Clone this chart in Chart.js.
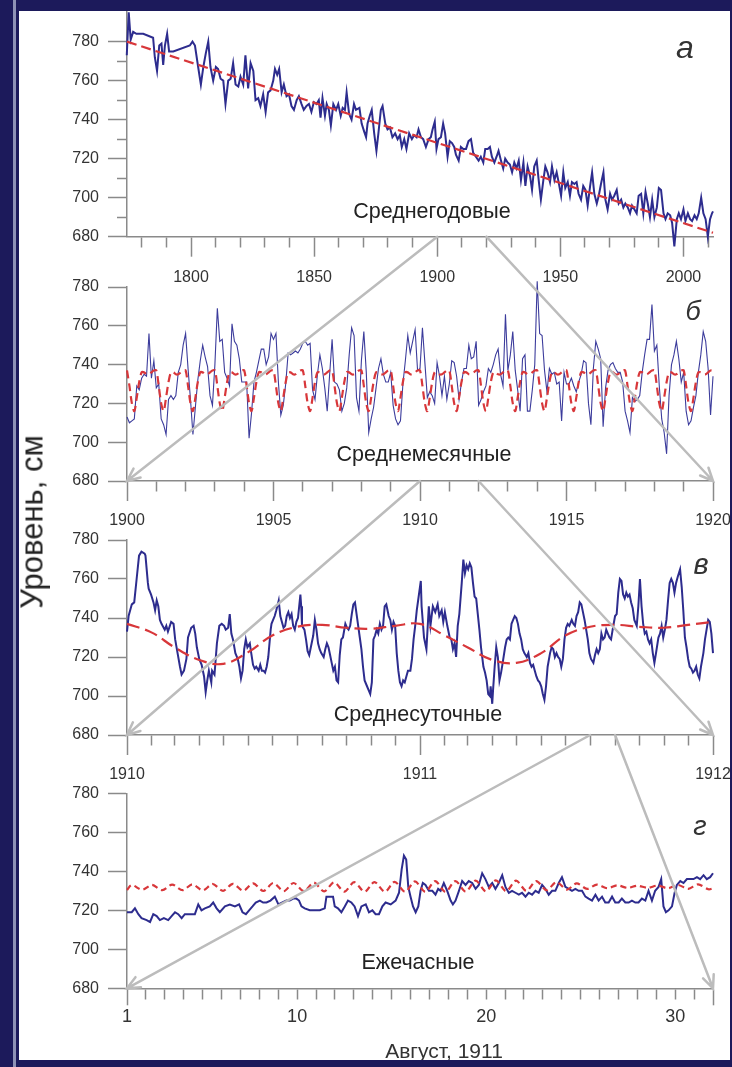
<!DOCTYPE html>
<html>
<head>
<meta charset="utf-8">
<script src="https://cdn.jsdelivr.net/npm/chart.js@4.4.1/dist/chart.umd.min.js"></script>
<style>
  html, body { margin: 0; padding: 0; background: #1c1a5b; }
  #page { position: relative; width: 732px; height: 1067px; background: #1c1a5b; overflow: hidden; }
  #stripe { position: absolute; left: 13px; top: 0; width: 3px; height: 1067px; background: #8e92b6; }
  #sheet { position: absolute; left: 19px; top: 11px; width: 711px; height: 1049px; background: #fff; overflow: hidden; }
  #sheet canvas { position: absolute; left: 0; }
  .t { position: absolute; font-family: "Liberation Sans", Arial, sans-serif; color: #222;
       white-space: nowrap; line-height: 1; transform: translate(-50%, -50%); }
  .tag { font-style: italic; color: #333; }
</style>
</head>
<body>
<div id="page">
  <div id="stripe"></div>
  <div id="sheet">
    <canvas id="chartA"></canvas>
    <canvas id="chartB"></canvas>
    <canvas id="chartC"></canvas>
    <canvas id="chartD"></canvas>
    <canvas id="overlay" width="711" height="1049" style="top:0"></canvas>

    <div class="t" style="left:413px;top:201px;font-size:21.5px">Среднегодовые</div>
    <div class="t" style="left:405px;top:444px;font-size:21.5px">Среднемесячные</div>
    <div class="t" style="left:399px;top:704px;font-size:21.5px">Среднесуточные</div>
    <div class="t" style="left:399px;top:952px;font-size:21.5px">Ежечасные</div>
    <div class="t tag" style="left:666px;top:36px;font-size:32px">а</div>
    <div class="t tag" style="left:674px;top:300px;font-size:27px">б</div>
    <div class="t tag" style="left:682px;top:553px;font-size:29px">в</div>
    <div class="t tag" style="left:681px;top:815px;font-size:27px">г</div>
    <div class="t" style="left:425px;top:1039px;font-size:21px;color:#333">Август, 1911</div>
    <div class="t" style="left:13px;top:511px;font-size:31px;transform:translate(-50%,-50%) rotate(-90deg)">Уровень, см</div>
  </div>
</div>

<script>
const FONT = '"Liberation Sans", Arial, sans-serif';
const AXIS = '#8a8a8a';
const BLUE = '#2d2c8e';
const RED = '#d8373a';

// y ticks shared by all four panels
const levelTicks = [680, 690, 700, 710, 720, 730, 740, 750, 760, 770, 780];

// (а) annual means
const aYear = [
  1773.9, 1774.7, 1775.5, 1776.5, 1777.8, 1780.6, 1784.6, 1785.3, 1786.2, 1787.1,
  1788.0, 1788.7, 1789.4, 1790.3, 1791.1, 1792.8, 1799.5, 1800.6, 1801.6, 1802.9,
  1804.0, 1805.0, 1806.0, 1807.0, 1807.9, 1809.0, 1810.1, 1811.0, 1812.0, 1813.1,
  1814.0, 1815.1, 1816.1, 1817.1, 1818.1, 1819.2, 1820.1, 1821.2, 1822.1, 1823.2,
  1824.2, 1825.3, 1826.2, 1827.3, 1828.2, 1829.3, 1830.3, 1831.3, 1832.3, 1833.4,
  1834.1, 1835.0, 1835.8, 1836.8, 1837.7, 1838.8, 1839.8, 1840.8, 1841.8, 1842.9,
  1843.8, 1844.9, 1845.8, 1846.9, 1847.9, 1848.9, 1849.9, 1851.0, 1851.9, 1852.6,
  1853.4, 1854.4, 1855.1, 1856.0, 1856.8, 1857.8, 1858.9, 1859.8, 1860.8, 1861.6,
  1862.5, 1863.2, 1864.2, 1865.2, 1866.2, 1867.0, 1868.4, 1869.3, 1870.3, 1871.1,
  1871.7, 1872.6, 1873.4, 1874.4, 1875.3, 1876.1, 1877.1, 1877.8, 1878.9, 1879.8,
  1880.8, 1881.8, 1882.9, 1883.9, 1884.8, 1885.6, 1886.6, 1887.5, 1888.6, 1889.7,
  1890.6, 1891.6, 1892.4, 1893.4, 1894.3, 1895.4, 1896.5, 1897.4, 1898.1, 1899.0,
  1899.7, 1900.5, 1901.5, 1902.4, 1903.2, 1904.2, 1905.1, 1906.0, 1906.9, 1907.6,
  1908.7, 1909.6, 1910.6, 1911.7, 1912.7, 1913.7, 1914.6, 1915.7, 1916.8, 1917.7,
  1918.7, 1919.5, 1920.5, 1921.4, 1922.2, 1923.2, 1924.1, 1924.9, 1925.9, 1926.8,
  1927.6, 1928.6, 1929.5, 1930.4, 1931.3, 1932.2, 1933.1, 1934.0, 1935.0, 1935.8,
  1936.7, 1937.7, 1938.5, 1939.4, 1940.4, 1941.2, 1942.1, 1943.1, 1943.9, 1944.8,
  1945.8, 1946.6, 1947.6, 1948.5, 1949.3, 1950.3, 1951.2, 1952.0, 1953.0, 1953.9,
  1954.7, 1955.7, 1956.6, 1957.4, 1958.4, 1959.3, 1960.2, 1961.1, 1962.1, 1962.9,
  1963.8, 1964.8, 1965.6, 1966.5, 1967.5, 1968.3, 1969.2, 1970.2, 1971.0, 1971.9,
  1972.9, 1973.7, 1974.7, 1975.6, 1976.4, 1977.4, 1978.3, 1979.1, 1980.1, 1981.0,
  1981.8, 1982.8, 1983.7, 1984.6, 1985.5, 1986.4, 1987.3, 1988.2, 1989.2, 1990.0,
  1990.9, 1991.9, 1992.7, 1993.6, 1994.6, 1995.4, 1996.3, 1997.3, 1998.1, 1999.0,
  2000.0, 2000.8, 2001.8, 2002.7, 2003.5, 2004.5, 2005.4, 2006.2, 2007.2, 2008.1,
  2009.0, 2009.9, 2010.8, 2011.6, 2012.0
];
const aLevel = [
  773, 795, 781, 785, 784, 784, 782, 772, 765, 778,
  779, 768, 778, 784, 775, 775, 778, 780, 778, 767,
  758, 767, 774, 780, 767, 760, 767, 766, 761, 760,
  748, 760, 761, 769, 758, 757, 762, 758, 773, 756,
  769, 765, 750, 751, 747, 753, 744, 754, 755, 760,
  766, 763, 766, 754, 758, 752, 753, 747, 745, 750,
  752, 748, 745, 747, 748, 744, 749, 748, 750, 741,
  751, 742, 748, 745, 737, 748, 745, 748, 742, 746,
  745, 754, 743, 740, 748, 745, 746, 738, 734, 731,
  738, 742, 745, 733, 724, 733, 745, 747, 738, 735,
  736, 731, 733, 730, 732, 726, 730, 725, 733, 730,
  732, 731, 735, 731, 730, 726, 730, 731, 735, 739,
  725, 730, 731, 738, 733, 721, 729, 728, 726, 722,
  719, 726, 725, 725, 729, 730, 723, 721, 719, 721,
  718, 725, 725, 726, 721, 718, 721, 724, 719, 715,
  720, 718, 717, 713, 718, 715, 719, 709, 718, 706,
  716, 711, 704, 716, 719, 709, 699, 709, 716, 713,
  708, 716, 709, 713, 708, 701, 713, 705, 708, 701,
  708, 707, 708, 702, 699, 706, 704, 696, 706, 713,
  702, 697, 701, 707, 713, 699, 694, 702, 699, 701,
  704, 697, 699, 695, 697, 695, 692, 696, 694, 692,
  701, 702, 692, 703, 697, 690, 699, 690, 695, 705,
  704, 692, 689, 692, 691, 687, 675, 689, 692, 689,
  694, 688, 692, 689, 688, 691, 689, 692, 700, 692,
  689, 680, 689, 692, 693
];
const aTrendYear = [1774, 2012];
const aTrendLevel = [780, 682];
const aTicks = [1780, 1790, 1800, 1810, 1820, 1830, 1840, 1850, 1860, 1870, 1880, 1890,
                1900, 1910, 1920, 1930, 1940, 1950, 1960, 1970, 1980, 1990, 2000, 2010];
const aMajor = [1800, 1850, 1900, 1950, 2000];

// (б) monthly means, Jan 1900 .. Jan 1920
const bLevel = [
  713, 710, 711, 712, 729, 727, 733, 735, 734, 756, 733, 742,
  728, 730, 712, 709, 704, 722, 724, 722, 724, 736, 740, 750,
  756, 738, 722, 704, 718, 732, 742, 750, 744, 739, 724, 719,
  740, 769, 752, 753, 736, 733, 729, 761, 752, 750, 743, 731,
  731, 731, 702, 715, 731, 736, 742, 748, 748, 740, 744, 756,
  753, 756, 731, 714, 719, 730, 746, 745, 746, 747, 746, 748,
  751, 752, 750, 751, 727, 722, 735, 745, 738, 728, 716, 735,
  753, 731, 730, 727, 716, 720, 728, 745, 759, 755, 723, 716,
  742, 757, 736, 705, 712, 718, 728, 738, 743, 735, 731, 731,
  736, 719, 712, 709, 711, 730, 742, 755, 746, 752, 758, 737,
  738, 759, 741, 723, 726, 724, 720, 741, 734, 724, 734, 722,
  730, 742, 741, 734, 722, 731, 738, 738, 750, 743, 744, 752,
  719, 722, 726, 729, 738, 736, 740, 745, 748, 735, 729, 766,
  737, 745, 757, 737, 727, 716, 743, 745, 716, 716, 727, 740,
  783, 756, 755, 737, 726, 738, 735, 736, 730, 731, 711, 736,
  730, 730, 733, 729, 726, 731, 735, 742, 741, 720, 709, 738,
  752, 748, 743, 708, 728, 737, 740, 741, 738, 736, 736, 731,
  716, 711, 705, 723, 721, 722, 724, 736, 745, 753, 753, 771,
  747, 750, 729, 712, 705, 694, 724, 740, 745, 752, 743, 731,
  736, 716, 709, 711, 718, 724, 736, 745, 757, 752, 738, 714,
  734
];
// mean seasonal cycle (red dashed), Jan..Dec
const seasonalCycle = [737, 729, 720, 716, 723, 731, 736, 736, 735, 735, 736, 737];
const bTicks = [1900, 1901, 1902, 1903, 1904, 1905, 1906, 1907, 1908, 1909, 1910,
                1911, 1912, 1913, 1914, 1915, 1916, 1917, 1918, 1919, 1920];
const bMajor = [1900, 1905, 1910, 1915, 1920];

// (в) daily means, days since 1 Jan 1910
const cDay = [
  0, 2, 6, 9, 12, 15, 18, 22, 23, 26,
  27, 30, 33, 35, 37, 39, 41, 43, 47, 49,
  51, 55, 58, 60, 63, 66, 68, 71, 74, 76,
  80, 83, 85, 87, 90, 93, 96, 98, 100, 102,
  105, 106, 109, 112, 115, 118, 121, 123, 126, 128,
  130, 132, 135, 138, 140, 142, 144, 146, 148, 150,
  153, 154, 157, 159, 161, 164, 166, 168, 170, 172,
  174, 176, 179, 180, 182, 184, 186, 189, 191, 193,
  195, 197, 199, 201, 203, 205, 207, 209, 211, 213,
  216, 217, 218, 221, 223, 225, 227, 229, 232, 234,
  236, 238, 240, 242, 245, 247, 249, 251, 253, 255,
  257, 259, 261, 263, 265, 267, 269, 272, 274, 276,
  278, 280, 282, 284, 286, 288, 290, 292, 294, 296,
  299, 301, 303, 305, 307, 309, 311, 313, 315, 317,
  319, 321, 323, 326, 328, 330, 332, 334, 336, 338,
  340, 342, 344, 346, 348, 350, 353, 355, 357, 359,
  361, 363, 366, 367, 370, 373, 376, 378, 381, 384,
  387, 389, 392, 394, 396, 399, 402, 404, 406, 408,
  410, 412, 414, 417, 419, 421, 423, 425, 427, 429,
  431, 433, 435, 437, 439, 441, 444, 446, 448, 450,
  452, 453, 455, 456, 458, 460, 462, 464, 466, 468,
  471, 473, 475, 477, 479, 481, 483, 485, 487, 489,
  491, 493, 495, 498, 500, 502, 504, 506, 508, 510,
  512, 514, 516, 518, 520, 522, 524, 527, 529, 531,
  533, 535, 537, 539, 541, 543, 545, 547, 549, 551,
  554, 556, 558, 560, 562, 564, 566, 568, 570, 572,
  574, 576, 578, 581, 583, 585, 587, 589, 591, 593,
  595, 597, 599, 601, 603, 605, 608, 610, 612, 614,
  616, 618, 620, 622, 624, 626, 628, 630, 632, 635,
  637, 639, 641, 643, 645, 647, 649, 651, 653, 655,
  657, 659, 662, 664, 666, 668, 670, 672, 674, 676,
  678, 680, 682, 684, 686, 689, 691, 693, 695, 697,
  699, 701, 703, 705, 707, 709, 711, 713, 715, 718,
  720, 722, 724, 726, 728, 730
];
const cLevel = [
  733, 741, 747, 748, 760, 772, 774, 773, 772, 758,
  755, 752, 748, 744, 749, 746, 739, 737, 734, 736,
  733, 738, 737, 729, 722, 715, 711, 713, 719, 730,
  735, 736, 732, 725, 719, 716, 710, 702, 708, 713,
  707, 713, 711, 727, 736, 737, 736, 734, 735, 742,
  732, 729, 722, 719, 715, 709, 713, 724, 729, 725,
  727, 724, 716, 714, 715, 713, 716, 713, 713, 712,
  715, 720, 734, 737, 739, 741, 744, 749, 741, 738,
  735, 736, 741, 743, 740, 742, 736, 734, 738, 740,
  752, 746, 736, 734, 729, 723, 721, 725, 731, 739,
  734, 727, 724, 722, 720, 724, 727, 725, 721, 717,
  713, 715, 708, 707, 721, 729, 730, 737, 735, 734,
  736, 742, 747, 748, 742, 736, 730, 724, 715, 708,
  705, 703, 701, 707, 729, 731, 734, 732, 737, 734,
  736, 746, 747, 741, 739, 734, 738, 736, 722, 713,
  707, 705, 708, 707, 710, 713, 713, 719, 729, 736,
  744, 750, 759, 746, 730, 724, 746, 736, 746, 743,
  747, 741, 744, 738, 743, 736, 730, 729, 724, 727,
  720, 736, 742, 758, 770, 763, 767, 765, 768, 766,
  758, 751, 750, 742, 734, 725, 715, 712, 708, 701,
  700, 705, 696, 703, 715, 725, 720, 708, 712, 717,
  725, 729, 730, 729, 737, 739, 741, 740, 737, 732,
  729, 724, 722, 720, 722, 717, 715, 716, 713, 710,
  708, 707, 705, 701, 698, 705, 715, 722, 725, 724,
  720, 722, 720, 719, 715, 719, 729, 735, 737, 736,
  739, 737, 736, 741, 743, 748, 747, 743, 739, 734,
  729, 722, 719, 717, 721, 724, 722, 724, 732, 729,
  730, 734, 732, 730, 729, 734, 741, 742, 753, 760,
  759, 752, 750, 753, 751, 752, 748, 745, 739, 736,
  746, 760, 746, 737, 732, 733, 729, 727, 729, 722,
  717, 722, 730, 732, 736, 730, 734, 739, 749, 758,
  760, 758, 753, 758, 761, 765, 756, 744, 730, 725,
  719, 715, 714, 712, 713, 715, 711, 709, 715, 722,
  729, 734, 739, 738, 732, 722
];
// month starts 1910-1911 (also the tick positions)
const monthStart = [0, 31, 59, 90, 120, 151, 181, 212, 243, 273, 304, 334, 365,
                    396, 424, 455, 485, 516, 546, 577, 608, 638, 669, 699, 730];
const cSeasonLevel = [737, 732.5, 725, 718.5, 716.5, 722.5, 731, 735.5, 736.5, 735, 734.5, 736, 737,
                      731, 725, 718.5, 717, 722, 731, 735.5, 736.5, 735.5, 735, 736.5, 738];
const cLabels = { 0: '1910', 365: '1911', 730: '1912' };

// (г) hourly, August 1911 (day of month)
const dDay = [
  1.00, 1.25, 1.42, 1.60, 1.77, 2.04, 2.22, 2.39, 2.57, 2.74,
  2.95, 3.18, 3.36, 3.54, 3.71, 3.89, 4.06, 4.29, 4.59, 4.77,
  4.94, 5.12, 5.38, 5.56, 5.74, 5.91, 6.18, 6.44, 6.71, 6.93,
  7.11, 7.29, 7.46, 7.64, 7.81, 8.03, 8.20, 8.38, 8.59, 8.82,
  9.01, 9.22, 9.43, 9.61, 9.79, 9.96, 10.10, 10.23, 10.40, 10.67,
  10.93, 11.20, 11.46, 11.55, 11.76, 11.90, 11.99, 12.16, 12.34, 12.52,
  12.69, 12.87, 13.04, 13.22, 13.40, 13.63, 13.80, 13.98, 14.15, 14.33,
  14.51, 14.68, 14.95, 15.21, 15.39, 15.53, 15.65, 15.77, 15.88, 16.00,
  16.13, 16.27, 16.41, 16.53, 16.65, 16.79, 16.97, 17.15, 17.32, 17.46,
  17.59, 17.76, 17.94, 18.12, 18.24, 18.38, 18.56, 18.73, 18.91, 19.08,
  19.26, 19.44, 19.61, 19.79, 19.96, 20.14, 20.32, 20.49, 20.67, 20.85,
  21.02, 21.20, 21.37, 21.55, 21.73, 21.90, 22.08, 22.25, 22.43, 22.61,
  22.78, 22.96, 23.13, 23.31, 23.49, 23.66, 23.84, 24.01, 24.19, 24.37,
  24.54, 24.72, 24.89, 25.07, 25.25, 25.42, 25.60, 25.78, 25.95, 26.13,
  26.30, 26.48, 26.66, 26.83, 27.01, 27.18, 27.36, 27.54, 27.71, 27.89,
  28.06, 28.24, 28.42, 28.59, 28.77, 28.94, 29.12, 29.26, 29.38, 29.51,
  29.65, 29.83, 29.97, 30.09, 30.27, 30.44, 30.62, 30.79, 30.97, 31.15,
  31.32, 31.50, 31.67, 31.85, 32.00
];
const dLevel = [
  719, 719, 721, 718, 716, 715, 714, 718, 717, 715,
  716, 715, 717, 719, 718, 716, 718, 718, 718, 723,
  720, 721, 722, 724, 721, 719, 722, 723, 722, 723,
  719, 718, 720, 722, 724, 725, 724, 724, 725, 727,
  723, 724, 725, 725, 726, 726, 725, 722, 721, 720,
  720, 720, 721, 727, 727, 727, 722, 721, 719, 722,
  725, 724, 722, 717, 722, 723, 719, 720, 718, 718,
  722, 724, 723, 725, 729, 741, 748, 746, 732, 727,
  722, 719, 722, 730, 734, 733, 730, 730, 728, 731,
  730, 734, 730, 725, 723, 725, 730, 735, 733, 735,
  734, 731, 733, 739, 736, 732, 734, 731, 734, 738,
  732, 729, 730, 729, 728, 729, 727, 729, 728, 730,
  729, 733, 731, 728, 730, 730, 734, 737, 732, 731,
  730, 731, 730, 730, 727, 726, 725, 728, 725, 727,
  724, 724, 727, 724, 724, 726, 724, 724, 725, 724,
  724, 726, 725, 730, 725, 730, 732, 736, 722, 719,
  720, 722, 729, 733, 735, 734, 736, 736, 736, 737,
  736, 738, 736, 737, 739
];
const dTideDay = [
  1.00, 1.25, 1.80, 2.32, 2.87, 3.39, 3.94, 4.46, 5.01, 5.53,
  6.08, 6.60, 7.15, 7.67, 8.22, 8.74, 9.29, 9.81, 10.36, 10.88,
  11.43, 11.95, 12.50, 13.02, 13.57, 14.09, 14.64, 15.16, 15.71, 16.23,
  16.78, 17.30, 17.85, 18.37, 18.92, 19.44, 19.99, 20.51, 21.06, 21.58,
  22.13, 22.65, 23.20, 23.72, 24.27, 24.79, 25.34, 25.86, 26.41, 26.93,
  27.48, 28.00, 28.55, 29.07, 29.62, 30.14, 30.69, 31.21, 31.76, 32.00
];
const dTideLevel = [
  730.4, 733.0, 730.5, 733.0, 730.3, 733.2, 730.3, 733.3, 730.2, 733.5,
  730.0, 733.6, 730.0, 733.8, 729.9, 734.0, 729.8, 734.0, 729.8, 734.2,
  729.7, 734.3, 729.6, 734.4, 729.5, 734.5, 729.5, 734.6, 729.5, 734.8,
  729.5, 735.0, 729.5, 735.0, 729.6, 735.2, 729.7, 735.3, 729.8, 735.2,
  730.0, 735.0, 730.3, 734.5, 730.6, 733.8, 731.0, 733.2, 731.3, 732.8,
  731.5, 732.6, 731.5, 732.7, 731.3, 733.0, 731.0, 733.3, 730.8, 731.3
];
const dTicks = [1, 2, 3, 4, 5, 6, 7, 8, 9, 10, 11, 12, 13, 14, 15, 16,
                17, 18, 19, 20, 21, 22, 23, 24, 25, 26, 27, 28, 29, 30, 31, 32];
const dLabels = [1, 10, 20, 30];
const dMajor = [1, 32];

const pts = (xs, ys) => xs.map((x, i) => ({ x: x, y: ys[i] }));

function yAxis(max) {
  return {
    type: 'linear', min: 680, max: max,
    afterBuildTicks: (s) => { s.ticks = levelTicks.map((v) => ({ value: v })); },
    afterFit: (s) => { s.width = 108; s.paddingTop = 0; s.paddingBottom = 0; },
    ticks: {
      font: { family: FONT, size: 16 }, color: '#333', padding: 9,
      callback: (v) => (v % 20 === 0 ? String(v) : ''),
    },
    grid: {
      drawOnChartArea: false, tickLength: 19, tickColor: AXIS, tickWidth: 1.5,
      // minor ticks: only the inner half of the mark
      tickBorderDash: (c) => (c.tick && c.tick.value % 20 !== 0 ? [0, 9, 12, 60] : []),
    },
    border: { color: AXIS, width: 1.5 },
  };
}

function xAxis(min, max, ticks, isMajor, label, fontSize, tickLen, pad, height) {
  return {
    type: 'linear', min: min, max: max,
    afterBuildTicks: (s) => { s.ticks = ticks.map((v) => ({ value: v })); },
    afterFit: (s) => { s.height = height; s.paddingLeft = 0; s.paddingRight = 0; },
    ticks: {
      autoSkip: false, maxRotation: 0, minRotation: 0,
      font: { family: FONT, size: fontSize }, color: '#333', padding: pad,
      callback: (v) => label(v),
    },
    grid: {
      drawOnChartArea: false, tickLength: tickLen, tickColor: AXIS, tickWidth: 1.5,
      tickBorderDash: (c) => (c.tick && !isMajor(c.tick.value) ? [10, 60] : []),
    },
    border: { color: AXIS, width: 1.5 },
  };
}

function blue(data, width) {
  return { data: data, borderColor: BLUE, borderWidth: width, pointRadius: 0, tension: 0, clip: false };
}
function red(data, dash, tension) {
  return { data: data, borderColor: RED, borderWidth: 2.2, borderDash: dash, pointRadius: 0,
           tension: tension, clip: false };
}

function panel(id, top, height, padTop, datasets, x, y) {
  const canvas = document.getElementById(id);
  canvas.width = 740;
  canvas.height = height;
  canvas.style.top = top + 'px';
  return new Chart(canvas, {
    type: 'line',
    data: { datasets: datasets },
    options: {
      responsive: false, animation: false, events: [], devicePixelRatio: 1,
      layout: { padding: { left: 0, right: 46, top: padTop, bottom: 0 } },
      plugins: { legend: { display: false }, tooltip: { enabled: false } },
      scales: { x: x, y: y },
    },
  });
}

// panel geometry in sheet coordinates (sheet starts at page 19,11)
const topA = 0, topB = 266, topC = 519, topD = 772;

const chartA = panel('chartA', topA, 290, 0,
  [red(pts(aTrendYear, aTrendLevel), [10, 5], 0), blue(pts(aYear, aLevel), 2)],
  xAxis(1774, 2012, aTicks, (v) => aMajor.includes(v), (v) => (aMajor.includes(v) ? String(v) : ''), 16, 20, 11, 64.3),
  yAxis(795.7));

const bData = bLevel.map((v, i) => ({ x: 1900 + i / 12, y: v }));
const bSeason = bLevel.map((v, i) => ({ x: 1900 + i / 12, y: seasonalCycle[i % 12] }));
const chartB = panel('chartB', topB, 270, 10,
  [red(bSeason, [8, 5], 0.3), { ...blue(bData, 1.1), borderColor: '#3c3c9c' }],
  xAxis(1900, 1920, bTicks, (v) => bMajor.includes(v), (v) => (bMajor.includes(v) ? String(v) : ''), 16, 20, 10, 66),
  yAxis(780));

const chartC = panel('chartC', topC, 270, 10,
  [red(pts(monthStart, cSeasonLevel), [13, 6], 0.4), blue(pts(cDay, cLevel), 2)],
  xAxis(0, 730, monthStart, (v) => v in cLabels, (v) => cLabels[v] || '', 16, 20, 10, 65),
  yAxis(780));

const chartD = panel('chartD', topD, 277, 10.3,
  [red(pts(dTideDay, dTideLevel), [6, 4], 0.3), blue(pts(dDay, dLevel), 2)],
  xAxis(1, 32, dTicks, (v) => dMajor.includes(v), (v) => (dLabels.includes(v) ? String(v) : ''), 18, 17, 1, 71.7),
  yAxis(780));

// grey zoom arrows between panels, placed through each chart's scales
function drawZoomArrows() {
  const ctx = document.getElementById('overlay').getContext('2d');
  ctx.strokeStyle = '#bcbcbc';
  ctx.lineWidth = 2.5;
  ctx.lineCap = 'round';
  const at = (chart, top, xv) => ({
    x: chart.scales.x.getPixelForValue(xv),
    y: top + chart.scales.y.getPixelForValue(680),
  });
  const links = [
    [at(chartA, topA, 1900), at(chartB, topB, 1900)],
    [at(chartA, topA, 1920), at(chartB, topB, 1920)],
    [at(chartB, topB, 1910), at(chartC, topC, 0)],
    [at(chartB, topB, 1912), at(chartC, topC, 730)],
    [at(chartC, topC, 577), at(chartD, topD, 1)],
    [at(chartC, topC, 608), at(chartD, topD, 32)],
  ];
  links.forEach(([p, q]) => {
    ctx.beginPath();
    ctx.moveTo(p.x, p.y);
    ctx.lineTo(q.x, q.y);
    const ang = Math.atan2(p.y - q.y, p.x - q.x);
    const len = 14, spread = 0.42;
    ctx.moveTo(q.x + len * Math.cos(ang - spread), q.y + len * Math.sin(ang - spread));
    ctx.lineTo(q.x, q.y);
    ctx.lineTo(q.x + len * Math.cos(ang + spread), q.y + len * Math.sin(ang + spread));
    ctx.stroke();
  });
}
drawZoomArrows();
</script>
</body>
</html>
